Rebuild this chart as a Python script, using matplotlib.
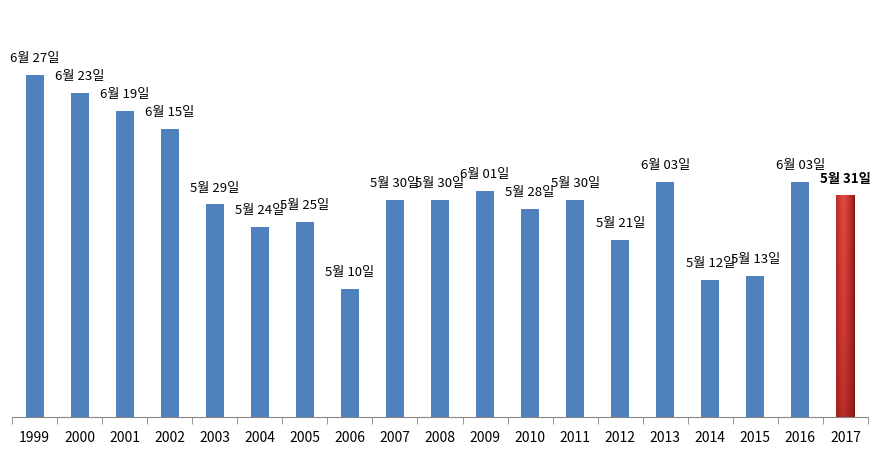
import datetime
import numpy as np
import matplotlib.pyplot as plt
from matplotlib.colors import LinearSegmentedColormap

plt.rcParams['font.family'] = ['Noto Sans CJK KR', 'DejaVu Sans']

years = ['1999', '2000', '2001', '2002', '2003', '2004', '2005', '2006', '2007', '2008',
         '2009', '2010', '2011', '2012', '2013', '2014', '2015', '2016', '2017']
months = [6, 6, 6, 6, 5, 5, 5, 5, 5, 5, 6, 5, 5, 5, 6, 5, 5, 6, 5]
days = [27, 23, 19, 15, 29, 24, 25, 10, 30, 30, 1, 28, 30, 21, 3, 12, 13, 3, 31]

# day of year (non-leap year) as bar height
doy = [datetime.date(2001, m, d).timetuple().tm_yday for m, d in zip(months, days)]
labels = ['{}월 {:02d}일'.format(m, d) for m, d in zip(months, days)]

fig = plt.figure(figsize=(8.85, 4.51), dpi=100)
ax = fig.add_axes([12 / 885, 34 / 451, 856 / 885, 407 / 451])

x = np.arange(len(years))
base = 101.3
ylim_top = base + 407 / 4.458
colors = ['#4f81bd'] * (len(years) - 1) + ['#d63a33']
bars = ax.bar(x, [v - base for v in doy], bottom=base, width=0.4, color=colors)

# shaded fill for the last bar: darker at the sides and towards the bottom
last = bars[-1]
cmap = LinearSegmentedColormap.from_list('redbar', ['#7a1515', '#b52a26', '#e24a42'])
xs = np.linspace(0, 1, 60)
horiz = 1 - np.abs(xs - 0.4) / 0.6
horiz = np.clip(horiz, 0, 1) ** 0.6
ys = np.linspace(1, 0, 120)
vert = 0.55 + 0.45 * ys ** 0.7
img = np.outer(vert, horiz)
bx, bw = last.get_x(), last.get_width()
im = ax.imshow(img, cmap=cmap, extent=[bx, bx + bw, base, doy[-1]], origin='upper',
               aspect='auto', zorder=3, vmin=0, vmax=1, interpolation='bilinear')
im.set_clip_path(last)

for i, (v, lab) in enumerate(zip(doy, labels)):
    bold = i == len(years) - 1
    ax.text(x[i], v + 2.2, lab, ha='center', va='bottom', fontsize=9.5,
            fontweight='bold' if bold else 'normal', color='black')

ax.set_xlim(-0.5, len(years) - 0.5)
ax.set_ylim(base, ylim_top)
ax.set_xticks(x)
ax.set_xticklabels(years, fontsize=10)
ax.set_xticks(np.arange(-0.5, len(years), 1), minor=True)
ax.tick_params(axis='x', which='major', length=0, pad=10)
ax.tick_params(axis='x', which='minor', length=5, color='#868686', direction='out')
ax.set_yticks([])
for s in ['top', 'right', 'left']:
    ax.spines[s].set_visible(False)
ax.spines['bottom'].set_color('#868686')

fig.savefig('out.png', dpi=100)
